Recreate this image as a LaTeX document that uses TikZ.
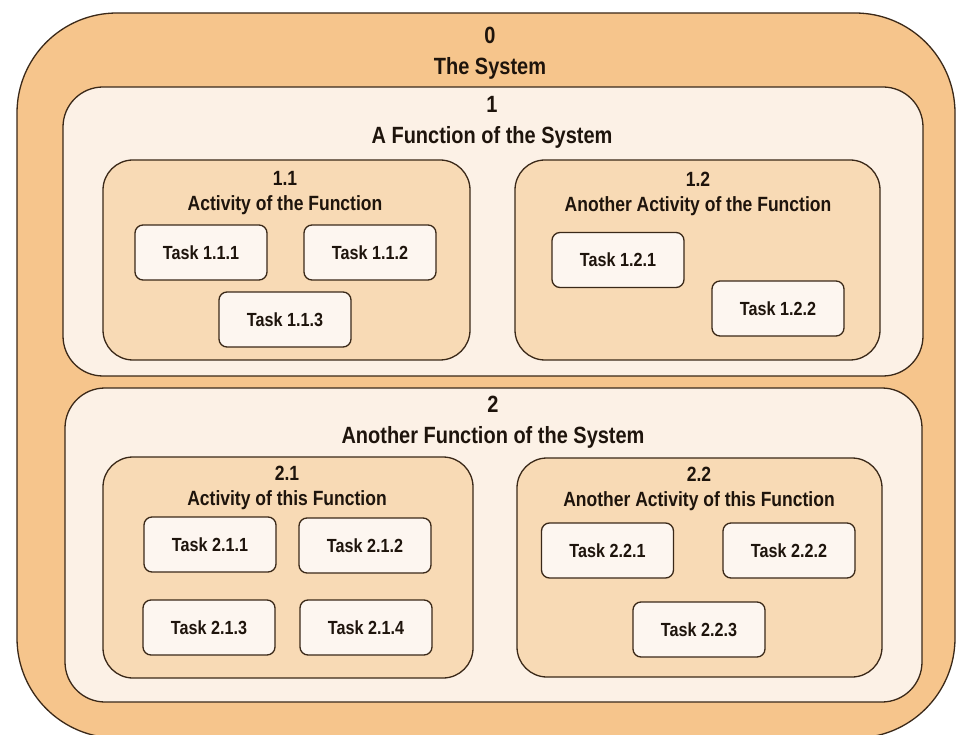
\documentclass[tikz,border=0pt]{standalone}
\usepackage{fontspec}
\setmainfont{Liberation Sans}[FakeStretch=0.85]

\definecolor{naranja}{RGB}{246,197,140}
\definecolor{crema}{RGB}{252,241,230}
\definecolor{durazno}{RGB}{248,218,181}
\definecolor{tareacol}{RGB}{253,246,240}
\definecolor{bordecol}{RGB}{58,40,24}
\definecolor{textocol}{RGB}{30,20,12}

\tikzset{
  borde/.style={draw=bordecol, line width=1.3pt, inner sep=0pt},
  sistema/.style={borde, fill=naranja, rounded corners=100pt},
  funcion/.style={borde, fill=crema, rounded corners=40pt},
  actividad/.style={borde, fill=durazno, rounded corners=30pt},
  tarea/.style={borde, fill=tareacol, rounded corners=8pt,
    minimum width=132pt, minimum height=55pt, text=textocol,
    font=\fontsize{19}{22}\selectfont\bfseries},
  titulo/.style={align=center, text=textocol,
    font=\fontsize{23.5}{31}\selectfont\bfseries},
  subtitulo/.style={align=center, text=textocol,
    font=\fontsize{20.6}{25}\selectfont\bfseries},
}

\begin{document}
\begin{tikzpicture}[x=1pt,y=-1pt]
  \useasboundingbox (0,0) rectangle (959,735);

  % Nivel 0: el sistema
  \node[sistema, minimum width=938pt, minimum height=725pt] (s0) at (486,375.5) {};
  \node[titulo] (tit0) at (490,53) {0\\The System};

  % Nivel 1: funciones
  \node[funcion, minimum width=860pt, minimum height=289pt] (s1) at (493,231.5) {};
  \node[titulo] (tit1) at (492,122) {1\\A Function of the System};

  \node[funcion, minimum width=857pt, minimum height=314pt] (s2) at (493.5,545) {};
  \node[titulo] (tit2) at (493,422.5) {2\\Another Function of the System};

  % Nivel 2: actividades
  \node[actividad, minimum width=367pt, minimum height=200pt] (s11) at (286.5,260) {};
  \node[subtitulo] (tit11) at (285,193.5) {1.1\\Activity of the Function};

  \node[actividad, minimum width=365pt, minimum height=200pt] (s12) at (697.5,260) {};
  \node[subtitulo] (tit12) at (698,193.5) {1.2\\Another Activity of the Function};

  \node[actividad, minimum width=370pt, minimum height=221pt] (s21) at (288,567.5) {};
  \node[subtitulo] (tit21) at (287,488) {2.1\\Activity of this Function};

  \node[actividad, minimum width=365pt, minimum height=219pt] (s22) at (699.5,567.5) {};
  \node[subtitulo] (tit22) at (699,488.5) {2.2\\Another Activity of this Function};

  % Nivel 3: tareas
  \node[tarea] (t111) at (201,252.5) {Task 1.1.1};
  \node[tarea] (t112) at (370,252.5) {Task 1.1.2};
  \node[tarea] (t113) at (285,319.5) {Task 1.1.3};

  \node[tarea] (t121) at (618,260) {Task 1.2.1};
  \node[tarea] (t122) at (778,308.5) {Task 1.2.2};

  \node[tarea] (t211) at (210,544.5) {Task 2.1.1};
  \node[tarea] (t212) at (365,545.5) {Task 2.1.2};
  \node[tarea] (t213) at (209,627.5) {Task 2.1.3};
  \node[tarea] (t214) at (366,627.5) {Task 2.1.4};

  \node[tarea] (t221) at (607.5,550.5) {Task 2.2.1};
  \node[tarea] (t222) at (789,550.5) {Task 2.2.2};
  \node[tarea] (t223) at (699,629.5) {Task 2.2.3};
\end{tikzpicture}
\end{document}
